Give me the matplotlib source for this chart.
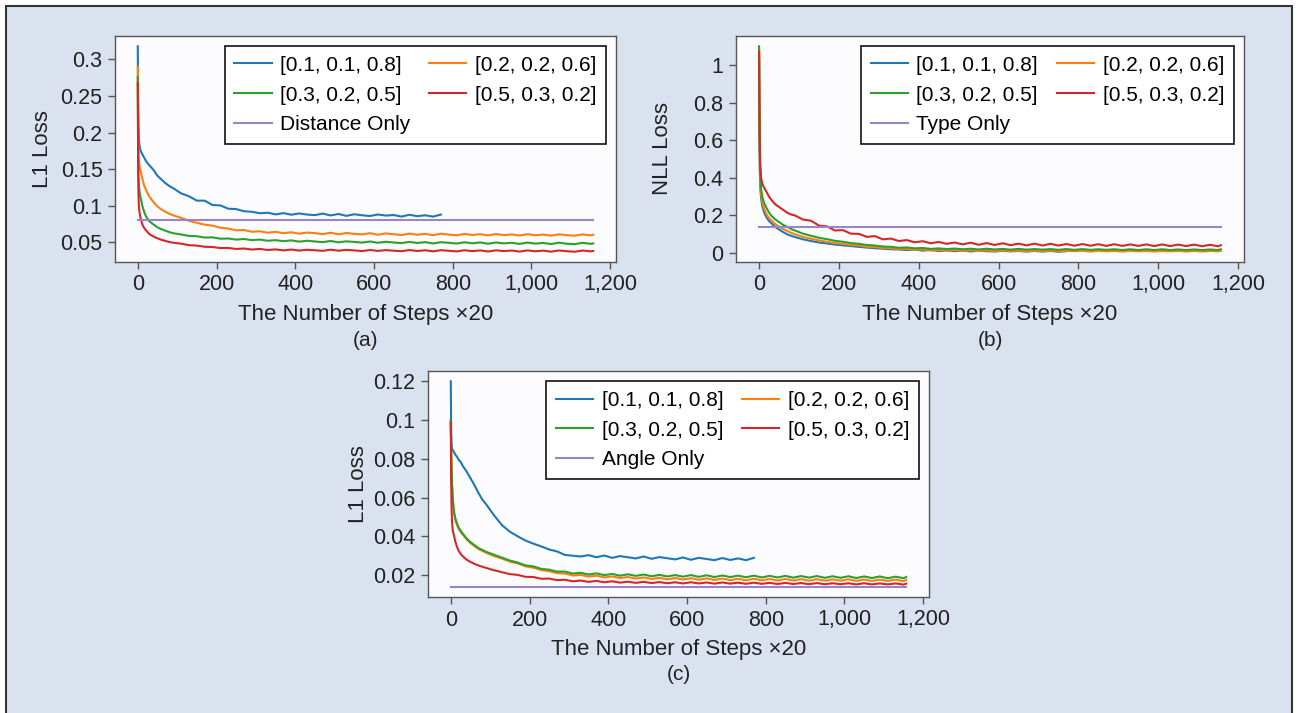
import matplotlib
matplotlib.use("Agg")
import matplotlib.pyplot as plt
from matplotlib.patches import Rectangle
from matplotlib.ticker import MultipleLocator, FuncFormatter

plt.rcParams['font.family'] = ['Liberation Sans', 'DejaVu Sans']

X_STEPS = [0, 1, 2, 3, 5, 8, 12, 16, 20, 25, 30, 40, 50, 60, 70, 80, 90] + list(range(110, 1151, 20)) + [1157]
LAST_STEP = 1157

LABELS = ["[0.1, 0.1, 0.8]", "[0.2, 0.2, 0.6]", "[0.3, 0.2, 0.5]", "[0.5, 0.3, 0.2]"]
COLORS = ["#1f77b4", "#ff7f0e", "#2ca02c", "#d62728"]
BASE_COLOR = "#9a84c8"

# (a) distance loss
A_BLUE = [
    0.318, 0.240, 0.205, 0.190, 0.180, 0.174, 0.170, 0.166, 0.162, 0.158, 0.155, 0.149, 0.141, 0.136, 0.131, 0.127, 0.124,
    0.117, 0.113, 0.107, 0.107, 0.101, 0.1005, 0.096, 0.0955, 0.0925, 0.0918,
    0.0898, 0.0905, 0.0882, 0.0900, 0.0878, 0.0895, 0.0880, 0.0872, 0.0893, 0.0868,
    0.0888, 0.0862, 0.0884, 0.0870, 0.0860, 0.0881, 0.0866, 0.0874, 0.0852, 0.0877,
    0.0858, 0.0870, 0.0852, 0.0880,
]
A_ORANGE = [
    0.290, 0.200, 0.172, 0.160, 0.152, 0.146, 0.136, 0.128, 0.123, 0.117, 0.112, 0.105, 0.099, 0.095, 0.092, 0.089, 0.087,
    0.0835, 0.0795, 0.0768, 0.0742, 0.0728, 0.0700, 0.0688, 0.0665, 0.0668, 0.0645,
    0.0652, 0.0632, 0.0644, 0.0625, 0.0638, 0.0619, 0.0634, 0.0626, 0.0612, 0.0632,
    0.0610, 0.0628, 0.0616, 0.0608, 0.0626, 0.0604, 0.0622, 0.0611, 0.0600, 0.0620,
    0.0604, 0.0616, 0.0598, 0.0618, 0.0606, 0.0596, 0.0615, 0.0600, 0.0612, 0.0595,
    0.0614, 0.0599, 0.0608, 0.0593, 0.0612, 0.0597, 0.0606, 0.0592, 0.0610, 0.0598,
    0.0591, 0.0609, 0.0596, 0.0604,
]
A_GREEN = [
    0.276, 0.170, 0.140, 0.127, 0.117, 0.109, 0.099, 0.092, 0.0865, 0.082, 0.0785, 0.0745, 0.0705, 0.068, 0.066, 0.064, 0.0625,
    0.0608, 0.0588, 0.0584, 0.0566, 0.0568, 0.0550, 0.0553, 0.0538, 0.0546, 0.0530,
    0.0538, 0.0522, 0.0530, 0.0516, 0.0527, 0.0510, 0.0522, 0.0512, 0.0503, 0.0519,
    0.0500, 0.0514, 0.0506, 0.0497, 0.0512, 0.0494, 0.0508, 0.0498, 0.0490, 0.0507,
    0.0491, 0.0503, 0.0485, 0.0502, 0.0494, 0.0484, 0.0501, 0.0487, 0.0499, 0.0481,
    0.0498, 0.0486, 0.0494, 0.0479, 0.0497, 0.0483, 0.0492, 0.0477, 0.0496, 0.0481,
    0.0476, 0.0494, 0.0480, 0.0485,
]
A_RED = [
    0.268, 0.140, 0.110, 0.098, 0.089, 0.081, 0.074, 0.070, 0.067, 0.064, 0.061, 0.058, 0.0555, 0.0535, 0.052, 0.0505, 0.0495,
    0.0482, 0.0462, 0.0456, 0.0440, 0.0436, 0.0422, 0.0424, 0.0410, 0.0416, 0.0402,
    0.0410, 0.0396, 0.0404, 0.0390, 0.0402, 0.0388, 0.0399, 0.0392, 0.0384, 0.0400,
    0.0386, 0.0397, 0.0390, 0.0381, 0.0396, 0.0383, 0.0394, 0.0386, 0.0379, 0.0395,
    0.0382, 0.0392, 0.0377, 0.0393, 0.0385, 0.0376, 0.0392, 0.0380, 0.0390, 0.0375,
    0.0391, 0.0381, 0.0388, 0.0374, 0.0390, 0.0378, 0.0387, 0.0373, 0.0389, 0.0379,
    0.0372, 0.0388, 0.0377, 0.0382,
]
A_BASE = 0.080

# (b) type loss
B_BLUE = [
    1.05, 0.60, 0.42, 0.35, 0.29, 0.25, 0.22, 0.20, 0.185, 0.170, 0.160, 0.140, 0.125, 0.112, 0.100, 0.092, 0.085,
    0.073, 0.064, 0.056, 0.051, 0.045, 0.041, 0.037, 0.033, 0.029, 0.026,
    0.023, 0.020, 0.019, 0.016, 0.018, 0.013, 0.016, 0.011, 0.014, 0.010,
    0.013, 0.009, 0.012, 0.010, 0.008, 0.012, 0.009, 0.011, 0.008, 0.011,
    0.008, 0.011, 0.007, 0.010,
]
B_ORANGE = [
    1.08, 0.65, 0.45, 0.38, 0.31, 0.27, 0.24, 0.22, 0.200, 0.185, 0.175, 0.155, 0.140, 0.128, 0.118, 0.108, 0.100,
    0.086, 0.076, 0.067, 0.060, 0.053, 0.049, 0.043, 0.040, 0.034, 0.032,
    0.027, 0.025, 0.021, 0.022, 0.017, 0.019, 0.014, 0.017, 0.013, 0.016,
    0.012, 0.015, 0.011, 0.014, 0.010, 0.014, 0.011, 0.013, 0.009, 0.013,
    0.010, 0.013, 0.009, 0.012, 0.010, 0.012, 0.008, 0.012, 0.009, 0.011,
    0.008, 0.012, 0.009, 0.011, 0.008, 0.011, 0.009, 0.011, 0.008, 0.011,
    0.008, 0.011, 0.009, 0.012,
]
B_GREEN = [
    1.10, 0.70, 0.50, 0.42, 0.34, 0.30, 0.27, 0.25, 0.235, 0.215, 0.200, 0.180, 0.165, 0.150, 0.140, 0.128, 0.120,
    0.103, 0.092, 0.081, 0.074, 0.065, 0.060, 0.053, 0.049, 0.043, 0.040,
    0.035, 0.033, 0.028, 0.030, 0.025, 0.027, 0.022, 0.025, 0.021, 0.024,
    0.020, 0.023, 0.019, 0.023, 0.019, 0.022, 0.018, 0.022, 0.018, 0.021,
    0.018, 0.021, 0.017, 0.021, 0.017, 0.021, 0.017, 0.020, 0.017, 0.020,
    0.016, 0.020, 0.016, 0.020, 0.016, 0.020, 0.016, 0.019, 0.016, 0.019,
    0.016, 0.019, 0.016, 0.020,
]
B_RED = [
    1.07, 0.75, 0.55, 0.47, 0.40, 0.37, 0.35, 0.335, 0.320, 0.300, 0.285, 0.260, 0.245, 0.230, 0.215, 0.205, 0.200,
    0.178, 0.172, 0.146, 0.142, 0.120, 0.122, 0.103, 0.102, 0.086, 0.090,
    0.073, 0.077, 0.064, 0.069, 0.057, 0.063, 0.052, 0.059, 0.049, 0.056,
    0.046, 0.055, 0.044, 0.053, 0.043, 0.052, 0.042, 0.050, 0.041, 0.050,
    0.040, 0.049, 0.040, 0.048, 0.039, 0.048, 0.039, 0.047, 0.038, 0.047,
    0.038, 0.046, 0.038, 0.046, 0.037, 0.046, 0.037, 0.045, 0.037, 0.045,
    0.036, 0.044, 0.036, 0.042,
]
B_BASE = 0.136

# (c) angle loss
C_BLUE = [
    0.120, 0.095, 0.087, 0.0855, 0.0845, 0.0835, 0.082, 0.081, 0.0795, 0.0785, 0.0765, 0.0735, 0.0700, 0.0665, 0.0625, 0.0590, 0.0565,
    0.0508, 0.0458, 0.0424, 0.0400, 0.0378, 0.0362, 0.0348, 0.0332, 0.0322, 0.0304,
    0.0300, 0.0296, 0.0303, 0.0292, 0.0301, 0.0289, 0.0298, 0.0292, 0.0286, 0.0296,
    0.0284, 0.0293, 0.0287, 0.0281, 0.0291, 0.0279, 0.0289, 0.0283, 0.0277, 0.0288,
    0.0278, 0.0286, 0.0277, 0.0289,
]
C_ORANGE = [
    0.100, 0.084, 0.074, 0.067, 0.059, 0.052, 0.048, 0.0458, 0.0438, 0.0423, 0.0410, 0.0385, 0.0365, 0.0350, 0.0335, 0.0325, 0.0315,
    0.0298, 0.0285, 0.0270, 0.0260, 0.0245, 0.0238, 0.0226, 0.0220, 0.0210, 0.0208,
    0.0198, 0.0201, 0.0192, 0.0197, 0.0188, 0.0193, 0.0185, 0.0190, 0.0182, 0.0188,
    0.0180, 0.0186, 0.0178, 0.0185, 0.0177, 0.0184, 0.0176, 0.0183, 0.0175, 0.0182,
    0.0174, 0.0181, 0.0173, 0.0181, 0.0173, 0.0180, 0.0172, 0.0180, 0.0172, 0.0179,
    0.0171, 0.0179, 0.0171, 0.0178, 0.0171, 0.0178, 0.0170, 0.0177, 0.0170, 0.0177,
    0.0170, 0.0177, 0.0169, 0.0175,
]
C_GREEN = [
    0.100, 0.085, 0.075, 0.068, 0.060, 0.053, 0.049, 0.0465, 0.0445, 0.0430, 0.0415, 0.0390, 0.0370, 0.0355, 0.0340, 0.0330, 0.0320,
    0.0305, 0.0290, 0.0275, 0.0265, 0.0250, 0.0245, 0.0232, 0.0228, 0.0218, 0.0218,
    0.0208, 0.0212, 0.0203, 0.0209, 0.0200, 0.0206, 0.0197, 0.0204, 0.0196, 0.0203,
    0.0194, 0.0201, 0.0193, 0.0200, 0.0192, 0.0200, 0.0191, 0.0199, 0.0190, 0.0198,
    0.0190, 0.0197, 0.0189, 0.0197, 0.0188, 0.0196, 0.0188, 0.0196, 0.0187, 0.0195,
    0.0187, 0.0195, 0.0186, 0.0194, 0.0186, 0.0194, 0.0185, 0.0193, 0.0185, 0.0193,
    0.0184, 0.0192, 0.0184, 0.0190,
]
C_RED = [
    0.099, 0.070, 0.055, 0.048, 0.043, 0.0405, 0.037, 0.0345, 0.0325, 0.0310, 0.0298, 0.0280, 0.0268, 0.0258, 0.0250, 0.0243, 0.0237,
    0.0225, 0.0215, 0.0205, 0.0201, 0.0191, 0.0190, 0.0181, 0.0182, 0.0174, 0.0176,
    0.0168, 0.0172, 0.0165, 0.0170, 0.0163, 0.0168, 0.0161, 0.0166, 0.0160, 0.0165,
    0.0159, 0.0164, 0.0158, 0.0163, 0.0157, 0.0163, 0.0157, 0.0162, 0.0156, 0.0162,
    0.0156, 0.0161, 0.0155, 0.0161, 0.0155, 0.0160, 0.0154, 0.0160, 0.0154, 0.0159,
    0.0153, 0.0159, 0.0153, 0.0158, 0.0153, 0.0158, 0.0152, 0.0158, 0.0152, 0.0157,
    0.0152, 0.0157, 0.0151, 0.0156,
]
C_BASE = 0.014

TICK_FS = 15.5
LABEL_FS = 16
LEGEND_FS = 15


def draw_panel(ax, curves, base, base_label, ylabel, ystep, ylabel_x, tag):
    lines = []
    for vals, col, lab in zip(curves, COLORS, LABELS):
        ln, = ax.plot(X_STEPS[:len(vals)], vals, color=col, lw=1.5, label=lab)
        lines.append(ln)
    bl, = ax.plot([0, LAST_STEP], [base, base], color=BASE_COLOR, lw=1.5, label=base_label)

    ax.set_facecolor("#fcfcfe")
    for s in ax.spines.values():
        s.set_color("#555555")
        s.set_linewidth(1.0)
    ax.xaxis.set_major_locator(MultipleLocator(200))
    ax.yaxis.set_major_locator(MultipleLocator(ystep))
    ax.xaxis.set_major_formatter(FuncFormatter(lambda v, p: "{:,.0f}".format(v)))
    ax.yaxis.set_major_formatter(FuncFormatter(lambda v, p: "{:g}".format(round(v, 4))))
    ax.tick_params(labelsize=TICK_FS, length=5, width=1, color="#555555", labelcolor="#222222", pad=4)

    ax.set_xlabel("The Number of Steps \u00d720", fontsize=LABEL_FS, color="#222222", labelpad=6)
    ax.set_ylabel(ylabel, fontsize=LABEL_FS, color="#222222")
    ax.yaxis.set_label_coords(ylabel_x, 0.5)

    handles = [lines[0], lines[2], bl, lines[1], lines[3]]
    leg = ax.legend(handles=handles, ncol=2, loc="upper right", fontsize=LEGEND_FS,
                    fancybox=False, framealpha=1, edgecolor="#111111",
                    handlelength=1.8, handletextpad=0.4, columnspacing=0.9,
                    labelspacing=0.52, borderpad=0.45, borderaxespad=0.5)
    leg.get_frame().set_linewidth(1.2)

    pos = ax.get_position()
    ax.figure.text((pos.x0 + pos.x1) / 2, tag[1], tag[0], ha="center", va="center",
                   fontsize=15, color="#222222")


W, H = 1297, 713
fig = plt.figure(figsize=(W / 100, H / 100), dpi=100, facecolor="white")
fig.patches.append(Rectangle((6 / W, -0.02), (1291.5 - 6) / W, 1 - 6 / H + 0.02,
                             transform=fig.transFigure, facecolor="#dae2f0",
                             edgecolor="#333333", lw=1.5, zorder=-10))

ax_a = fig.add_axes([115 / W, 1 - 262 / H, 501 / W, 226 / H])
ax_b = fig.add_axes([736 / W, 1 - 262 / H, 508 / W, 226 / H])
ax_c = fig.add_axes([428 / W, 1 - 597 / H, 501 / W, 226 / H])

draw_panel(ax_a, [A_BLUE, A_ORANGE, A_GREEN, A_RED], A_BASE, "Distance Only", "L1 Loss",
           0.05, -0.124, ("(a)", 1 - 340 / H))
draw_panel(ax_b, [B_BLUE, B_ORANGE, B_GREEN, B_RED], B_BASE, "Type Only", "NLL Loss",
           0.2, -0.124, ("(b)", 1 - 340 / H))
draw_panel(ax_c, [C_BLUE, C_ORANGE, C_GREEN, C_RED], C_BASE, "Angle Only", "L1 Loss",
           0.02, -0.117, ("(c)", 1 - 675 / H))

fig.savefig("out.png", dpi=100, facecolor=fig.get_facecolor())
